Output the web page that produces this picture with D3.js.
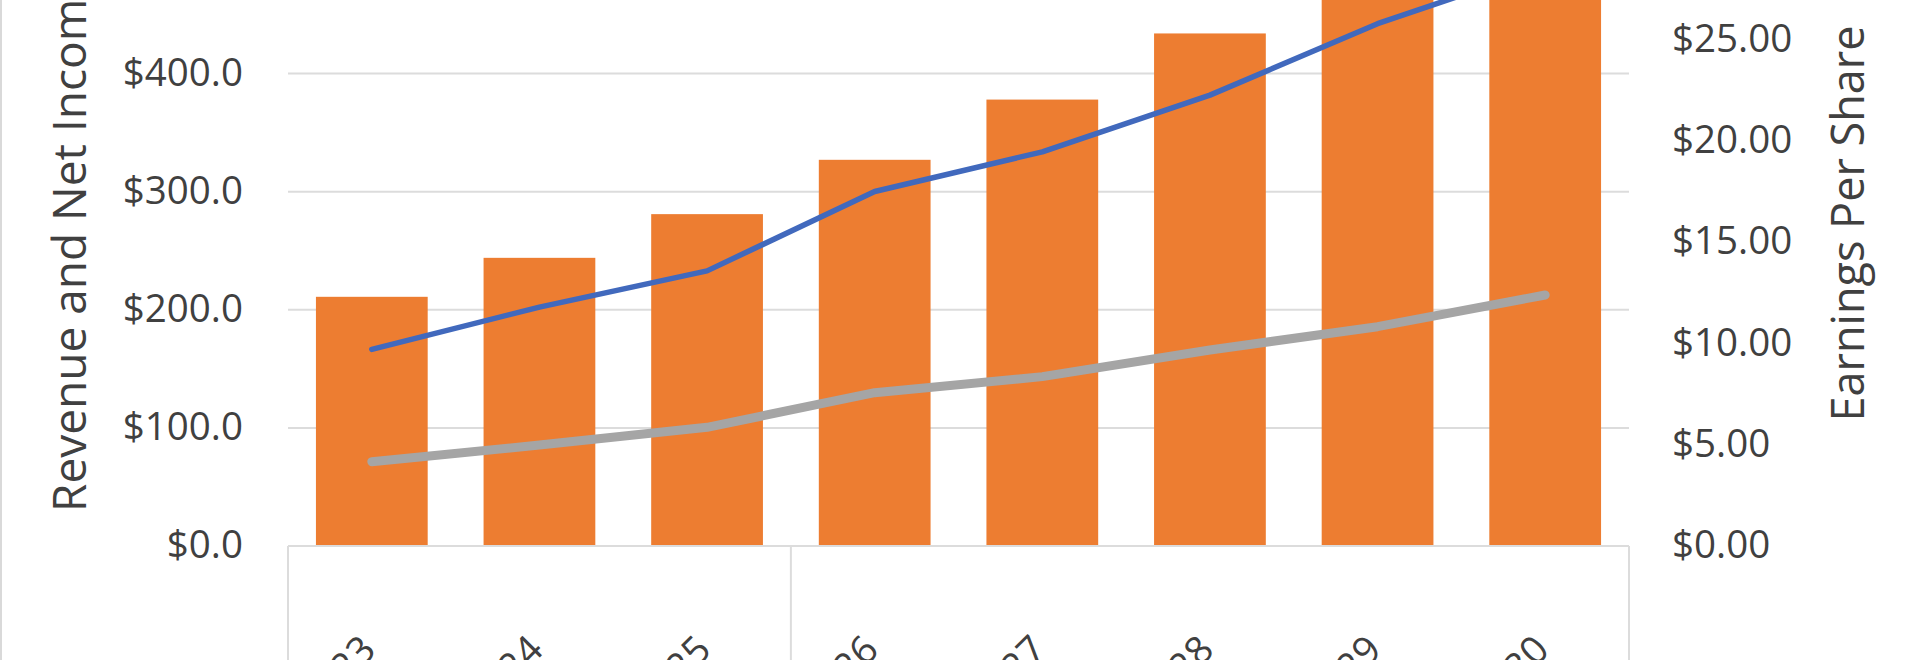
<!DOCTYPE html>
<html>
<head>
<meta charset="utf-8">
<script src="https://cdn.jsdelivr.net/npm/d3@7"></script>
<style>
  html, body { margin: 0; padding: 0; background: #ffffff; overflow: hidden; }
  svg { display: block; font-family: "Open Sans", "Noto Sans", sans-serif; }
</style>
</head>
<body>
<svg id="chart" width="1920" height="660"></svg>
<script>
// ---- data ----
const years = ["2023", "2024", "2025", "2026", "2027", "2028", "2029", "2030"];
const revenue = [211, 244, 281, 327, 378, 434, 495, 560];
const netIncome = [71.4, 85.5, 100.5, 129.8, 143.4, 166, 185.7, 212.5];
const eps = [9.71, 11.8, 13.59, 17.51, 19.47, 22.27, 25.8, 28.6];
const leftDomainMax = 600, rightDomainMax = 35;
const leftGridTicks = [100, 200, 300, 400, 500, 600];
const leftTicks = [0, 100, 200, 300, 400];       // labels visible in the picture
const rightTicks = [0, 5, 10, 15, 20, 25];        // labels visible in the picture
const groupBreaks = [0, 3, 8]; // category-axis group dividers (index of band start)
const leftTitle = "Revenue and Net Income";
const rightTitle = "Earnings Per Share";

// ---- layout ----
const W = 1920, H = 660;
const plotLeft = 288, plotRight = 1629;
const zeroY = 546, pxPer100 = 118.1;
const topY = zeroY - pxPer100 * 6;

const svg = d3.select("#chart");

const x = d3.scaleBand().domain(years).range([plotLeft, plotRight])
  .paddingInner(1 / 3).paddingOuter(1 / 6);
const yL = d3.scaleLinear().domain([0, leftDomainMax]).range([zeroY, topY]);
const yR = d3.scaleLinear().domain([0, rightDomainMax]).range([zeroY, topY]);

const gridColor = "#dcdcdc";
const textColor = "#404040";

// chart border (left edge)
svg.append("line").attr("x1", 1).attr("x2", 1).attr("y1", 0).attr("y2", H)
  .attr("stroke", "#d9d9d9").attr("stroke-width", 2);

// gridlines
svg.append("g").selectAll("line").data(leftGridTicks).join("line")
  .attr("x1", plotLeft).attr("x2", plotRight)
  .attr("y1", d => yL(d)).attr("y2", d => yL(d))
  .attr("stroke", gridColor).attr("stroke-width", 2);

// bars
svg.append("g").selectAll("rect").data(revenue).join("rect")
  .attr("x", (d, i) => x(years[i]))
  .attr("width", x.bandwidth())
  .attr("y", d => yL(d))
  .attr("height", d => yL(0) - yL(d))
  .attr("fill", "#ED7D31");

// category axis line and group dividers
svg.append("line").attr("x1", plotLeft).attr("x2", plotRight)
  .attr("y1", zeroY).attr("y2", zeroY)
  .attr("stroke", gridColor).attr("stroke-width", 2);
svg.append("g").selectAll("line").data(groupBreaks).join("line")
  .attr("x1", d => plotLeft + d * x.step()).attr("x2", d => plotLeft + d * x.step())
  .attr("y1", zeroY).attr("y2", H)
  .attr("stroke", gridColor).attr("stroke-width", 2);

// lines
const cx = (d, i) => x(years[i]) + x.bandwidth() / 2;
svg.append("path").datum(netIncome)
  .attr("d", d3.line().x(cx).y(d => yL(d)))
  .attr("fill", "none").attr("stroke", "#A5A5A5")
  .attr("stroke-width", 9).attr("stroke-linecap", "round").attr("stroke-linejoin", "round");
svg.append("path").datum(eps)
  .attr("d", d3.line().x(cx).y(d => yR(d)))
  .attr("fill", "none").attr("stroke", "#4169BD")
  .attr("stroke-width", 5.5).attr("stroke-linecap", "round").attr("stroke-linejoin", "round");

// left axis labels
svg.append("g").selectAll("text").data(leftTicks).join("text")
  .attr("x", 243).attr("y", d => yL(d) + 12)
  .attr("text-anchor", "end")
  .attr("font-size", 38.5).attr("fill", textColor)
  .text(d => "$" + d3.format(".1f")(d));

// right axis labels
svg.append("g").selectAll("text").data(rightTicks).join("text")
  .attr("x", 1672).attr("y", d => yR(d) + 12)
  .attr("text-anchor", "start")
  .attr("font-size", 38.5).attr("fill", textColor)
  .text(d => "$" + d3.format(".2f")(d));

// category labels
svg.append("g").selectAll("text").data(years).join("text")
  .attr("transform", d => `translate(${x(d) + x.bandwidth() / 2 + 6},${652}) rotate(-45)`)
  .attr("text-anchor", "end")
  .attr("font-size", 38.5).attr("fill", textColor)
  .text(d => d);

// axis titles
svg.append("text")
  .attr("transform", `translate(86,512) rotate(-90)`)
  .attr("text-anchor", "start")
  .attr("font-size", 46).attr("fill", textColor)
  .text(leftTitle);
svg.append("text")
  .attr("transform", `translate(1864,223.5) rotate(-90)`)
  .attr("text-anchor", "middle")
  .attr("font-size", 45).attr("fill", textColor)
  .text(rightTitle);
</script>
</body>
</html>
